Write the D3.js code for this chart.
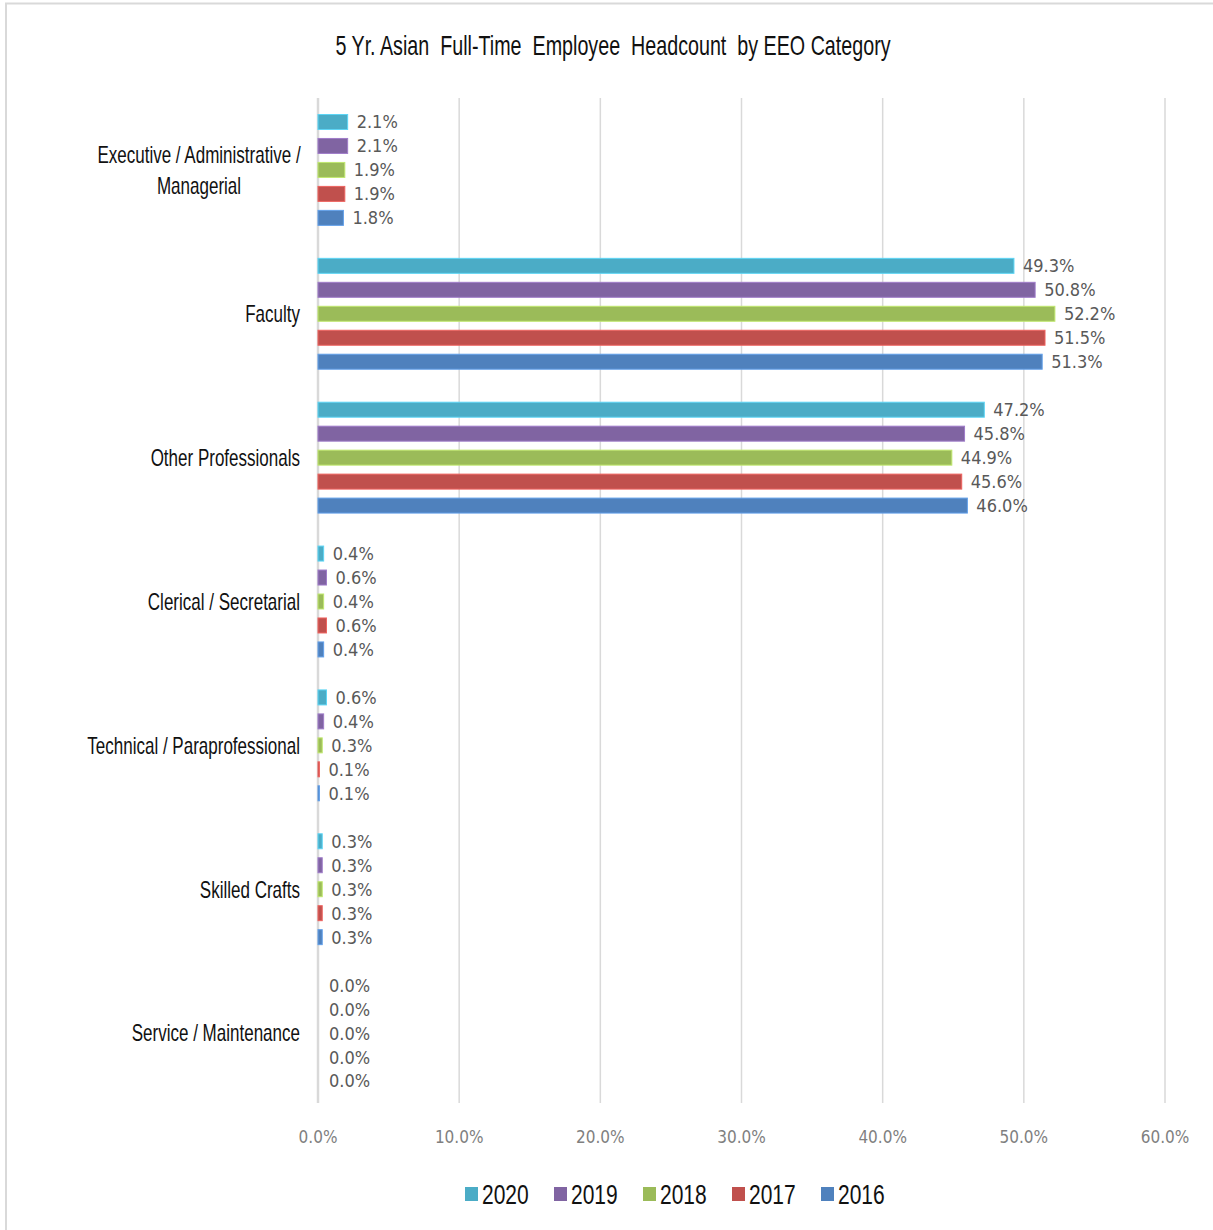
<!DOCTYPE html>
<html>
<head>
<meta charset="utf-8">
<script src="https://cdn.jsdelivr.net/npm/d3@7/dist/d3.min.js"></script>
<style>
  body { margin: 0; background: #fff; }
  svg { display: block; }
</style>
</head>
<body>
<script>
// categories and series (top to bottom within each group: 2020 .. 2016)
const categories = ['Executive / Administrative / Managerial', 'Faculty', 'Other Professionals',
  'Clerical / Secretarial', 'Technical / Paraprofessional', 'Skilled Crafts', 'Service / Maintenance']
const years = ['2020', '2019', '2018', '2017', '2016']
const v2020 = [2.1, 49.3, 47.2, 0.4, 0.6, 0.3, 0.0]
const v2019 = [2.1, 50.8, 45.8, 0.6, 0.4, 0.3, 0.0]
const v2018 = [1.9, 52.2, 44.9, 0.4, 0.3, 0.3, 0.0]
const v2017 = [1.9, 51.5, 45.6, 0.6, 0.1, 0.3, 0.0]
const v2016 = [1.8, 51.3, 46.0, 0.4, 0.1, 0.3, 0.0]
const xTicks = [0, 10, 20, 30, 40, 50, 60]
const colors = ['#4BACC6', '#8064A2', '#9BBB59', '#C0504D', '#4F81BD']

const seriesValues = [v2020, v2019, v2018, v2017, v2016]
const data = []
categories.forEach((c, i) => {
  years.forEach((y, j) => data.push({ cat: c, year: y, value: seriesValues[j][i] }))
})

const W = 1213, H = 1230
const svg = d3.select('body').append('svg')
  .attr('width', W)
  .attr('height', H)

// frame (top + left edges only visible)
svg.append('line').attr('x1', 5).attr('x2', W).attr('y1', 3.5).attr('y2', 3.5)
  .attr('stroke', '#d9d9d9').attr('stroke-width', 2)
svg.append('line').attr('x1', 6).attr('x2', 6).attr('y1', 3).attr('y2', H)
  .attr('stroke', '#d9d9d9').attr('stroke-width', 2)

const sans = "'Liberation Sans', Arial, sans-serif"
const labelFont = "'DejaVu Sans Condensed', 'Liberation Sans', sans-serif"

// a narrow-looking text: placed at (x, y), squeezed horizontally by k
function narrowText(parent, xPos, yPos, k, anchor, size, str) {
  return parent.append('g')
    .attr('transform', `translate(${xPos},${yPos}) scale(${k},1)`)
    .append('text')
    .attr('text-anchor', anchor)
    .attr('dy', '0.36em')
    .style('font-family', sans)
    .style('font-size', size + 'px')
    .style('white-space', 'pre')
    .attr('fill', '#111')
    .text(str)
}

// title
narrowText(svg, 613, 45, 0.73, 'middle', 27,
  '5 Yr. Asian  Full-Time  Employee  Headcount  by EEO Category')

const x = d3.scaleLinear().domain([0, 60]).range([318, 1165])
const y0 = d3.scaleBand().domain(categories).range([98, 1105])
  .paddingInner(0.1669).paddingOuter(0.0834)
const y1 = d3.scaleBand().domain(years).range([0, y0.bandwidth()])
  .paddingInner(0.375).paddingOuter(0.1875)
const color = d3.scaleOrdinal().domain(years).range(colors)

// gridlines
svg.append('g')
  .selectAll('line')
  .data(xTicks)
  .join('line')
  .attr('x1', d => x(d)).attr('x2', d => x(d))
  .attr('y1', 98).attr('y2', 1103)
  .attr('stroke', '#d9d9d9')
  .attr('stroke-width', d => d === 0 ? 2.5 : 1.5)

// x tick labels
svg.append('g')
  .selectAll('text')
  .data(xTicks)
  .join('text')
  .attr('x', d => x(d)).attr('y', 1143)
  .attr('text-anchor', 'middle')
  .style('font-family', labelFont)
  .style('font-size', '17px')
  .attr('fill', '#7f7f7f')
  .text(d => d3.format('.1f')(d) + '%')

// bars
const groups = svg.append('g')
  .selectAll('g')
  .data(categories)
  .join('g')
  .attr('transform', d => `translate(0,${y0(d)})`)

groups.selectAll('rect')
  .data(c => data.filter(d => d.cat === c))
  .join('rect')
  .attr('x', x(0))
  .attr('y', d => y1(d.year))
  .attr('width', d => x(d.value) - x(0))
  .attr('height', y1.bandwidth())
  .attr('fill', d => color(d.year))
  .attr('stroke', d => d3.color(color(d.year)).brighter(0.6))
  .attr('stroke-width', d => d.value > 0 ? 1 : 0)

groups.selectAll('text.val')
  .data(c => data.filter(d => d.cat === c))
  .join('text')
  .attr('class', 'val')
  .attr('x', d => x(d.value) + (d.value > 0 ? 9 : 11))
  .attr('y', d => y1(d.year) + y1.bandwidth() / 2)
  .attr('dy', '0.36em')
  .style('font-family', labelFont)
  .style('font-size', '18px')
  .attr('fill', '#595959')
  .text(d => d3.format('.1f')(d.value) + '%')

// category labels
const catLines = {
  'Executive / Administrative / Managerial': ['Executive / Administrative /', 'Managerial']
}
groups.each(function (c) {
  const lines = catLines[c] || [c]
  const mid = y0.bandwidth() / 2
  lines.forEach((l, i) => {
    narrowText(d3.select(this),
      lines.length > 1 ? 199 : 300,
      mid + (i - (lines.length - 1) / 2) * 31,
      0.74, lines.length > 1 ? 'middle' : 'end', 23, l)
  })
})

// legend
const legend = svg.append('g')
  .selectAll('g')
  .data(years)
  .join('g')
  .attr('transform', (d, i) => `translate(${465 + i * 89},1194)`)
legend.append('rect')
  .attr('x', 0).attr('y', -7)
  .attr('width', 13).attr('height', 14)
  .attr('fill', d => color(d))
legend.each(function (d) {
  narrowText(d3.select(this), 17, 0, 0.75, 'start', 28, d)
})
</script>
</body>
</html>
